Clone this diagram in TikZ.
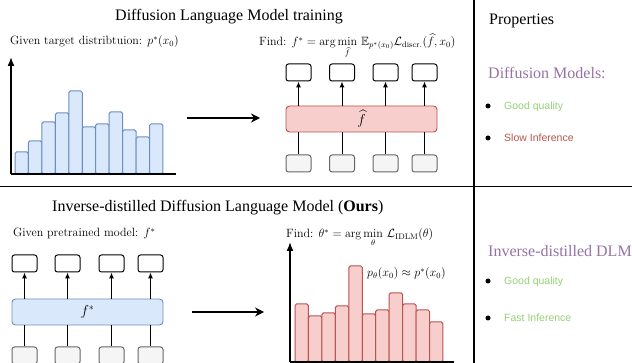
\documentclass[tikz,border=0pt]{standalone}
\usepackage{amsmath,amssymb}
\usepackage{fontspec}
\usetikzlibrary{arrows.meta}
\newfontfamily\timesf{Liberation Serif}
\newfontfamily\arialf{Liberation Sans}
\definecolor{bluefill}{HTML}{DAE8FC}
\definecolor{bluedraw}{HTML}{6C8EBF}
\definecolor{redfill}{HTML}{F8CECC}
\definecolor{reddraw}{HTML}{B85450}
\definecolor{greyfill}{HTML}{F5F5F5}
\definecolor{greydraw}{HTML}{666666}
\definecolor{purpletxt}{HTML}{9673A6}
\definecolor{greentxt}{HTML}{97D077}
\definecolor{redtxt}{HTML}{B85450}
\tikzset{
  outbox/.style={draw=black, line width=1pt, rounded corners=2.5pt, fill=white,
    minimum width=25pt, minimum height=17pt, inner sep=0pt},
  inbox/.style={outbox, draw=greydraw, fill=greyfill},
  layer/.style={rounded corners=3.5pt, minimum width=151pt, minimum height=26pt,
    line width=0.9pt, inner sep=0pt},
  link/.style={line width=1pt},
  uparrow/.style={line width=1pt, -{Latex[length=6pt,width=5pt]}},
  bigarrow/.style={line width=1.3pt, -{Stealth[length=9pt,width=9pt]}},
  axis/.style={line width=1.5pt, -{Latex[length=9pt,width=7pt]}},
  baseline/.style={line width=1.5pt},
  divider/.style={line width=1.2pt},
  bluebar/.style={draw=bluedraw, fill=bluefill, line width=1pt, rounded corners=1.5pt},
  redbar/.style={draw=reddraw, fill=redfill, line width=1pt, rounded corners=1.5pt},
  title/.style={anchor=base west, inner sep=0pt, font=\fontsize{16}{19}\selectfont\timesf},
  label/.style={anchor=base west, inner sep=0pt, font=\fontsize{12}{14}\selectfont},
  purplehead/.style={anchor=base west, inner sep=0pt, text=purpletxt, font=\fontsize{16}{19}\selectfont\timesf},
  item/.style={anchor=base west, inner sep=0pt, font=\fontsize{10.5}{12}\selectfont\arialf},
  dot/.style={circle, fill=black, inner sep=0pt, minimum size=5pt},
}
\begin{document}
\begin{tikzpicture}[x=1pt,y=-1pt]
\clip (0,0) rectangle (632,363);
\fill[white] (0,0) rectangle (632,363);

% dividers
\coordinate (vtop) at (474,0);
\coordinate (vbot) at (474,363);
\coordinate (hl) at (0,186.5);
\coordinate (hr) at (632,186.5);
\draw[divider] (vtop) -- (vbot);
\draw[divider] (hl) -- (hr);

% ---------------- top section ----------------
\node[title] (t1) at (115,21) {Diffusion Language Model training};
\node[label] (given1) at (10,45) {Given target distribtuion: $p^*(x_0)$};

% histogram (blue)
\foreach \i/\t in {0/152,1/141,2/122,3/113,4/91,5/127,6/124,7/112,8/130,9/137,10/124}{
  \draw[bluebar] ({15+13.45*\i},174) rectangle ({15+13.45*(\i+1)},\t);
}
\coordinate (ax1o) at (11,174);
\coordinate (ax1t) at (11,57);
\coordinate (ax1r) at (176,174);
\draw[axis] (ax1o) -- (ax1t);
\draw[baseline] (ax1o) -- (ax1r);

\coordinate (a1s) at (187,118);
\coordinate (a1e) at (260,118);
\draw[bigarrow] (a1s) -- (a1e);

\node[label] (find1) at (259,46) {Find: $\displaystyle f^* = \arg\min_{\widehat{f}}\, \mathbb{E}_{p^*(x_0)} \mathcal{L}_{\mathrm{discr.}}(\widehat{f}, x_0)$};

% network top
\node[layer, draw=reddraw, fill=redfill] (fhat) at (361.5,119) {};
\node[inner sep=0pt, font=\fontsize{14.4}{17}\selectfont] (fhatlbl) at (fhat.center) {$\widehat{f}$};
\foreach \n/\x in {1/298.5,2/342,3/385.5,4/424.5}{
  \node[outbox] (o\n) at (\x,72.5) {};
  \node[inbox] (i\n) at (\x,163.5) {};
  \draw[uparrow] (o\n.south |- fhat.north) -- (o\n.south);
  \draw[link] (i\n.north) -- (i\n.north |- fhat.south);
}

% properties
\node[title] (props) at (489,25) {Properties};
\node[purplehead] (dm) at (488,79) {Diffusion Models:};
\node[dot] (b1) at (488,106) {};
\node[item, text=greentxt] (g1) at (504,110) {Good quality};
\node[dot] (b2) at (488,138) {};
\node[item, text=redtxt] (s1) at (504,142) {Slow Inference};

% ---------------- bottom section ----------------
\node[title] (t2) at (52,212) {Inverse-distilled Diffusion Language Model (\textbf{Ours})};
\node[label] (given2) at (13,237) {Given pretrained model: $f^*$};

\node[layer, draw=bluedraw, fill=bluefill] (fstar) at (87.5,312) {};
\node[inner sep=0pt, font=\fontsize{14.4}{17}\selectfont] (fstarlbl) at (fstar.center) {$f^*$};
\foreach \n/\x in {1/24.5,2/67.5,3/111.5,4/150.5}{
  \node[outbox] (p\n) at (\x,263.5) {};
  \node[inbox] (q\n) at (\x,355.5) {};
  \draw[uparrow] (p\n.south |- fstar.north) -- (p\n.south);
  \draw[link] (q\n.north) -- (q\n.north |- fstar.south);
}

\coordinate (a2s) at (192,312);
\coordinate (a2e) at (264,312);
\draw[bigarrow] (a2s) -- (a2e);

\node[label] (find2) at (286,238) {Find: $\displaystyle \theta^* = \arg\min_{\theta}\, \mathcal{L}_{\mathrm{IDLM}}(\theta)$};

% histogram (red)
\foreach \i/\t in {0/304,1/316,2/313,3/306,4/266,5/314,6/310,7/293,8/304,9/310,10/322}{
  \draw[redbar] ({295+13.45*\i},362) rectangle ({295+13.45*(\i+1)},\t);
}
\coordinate (ax2o) at (290,362);
\coordinate (ax2t) at (290,242);
\coordinate (ax2r) at (454,362);
\draw[axis] (ax2o) -- (ax2t);
\draw[baseline] (ax2o) -- (ax2r);
\node[label] (ptheta) at (367,277) {$p_\theta(x_0) \approx p^*(x_0)$};

\node[purplehead] (idlm) at (488,257) {Inverse-distilled DLM};
\node[dot] (b3) at (488,281) {};
\node[item, text=greentxt] (g2) at (504,285) {Good quality};
\node[dot] (b4) at (488,318) {};
\node[item, text=greentxt] (f2) at (504,322) {Fast Inference};
\end{tikzpicture}
\end{document}
